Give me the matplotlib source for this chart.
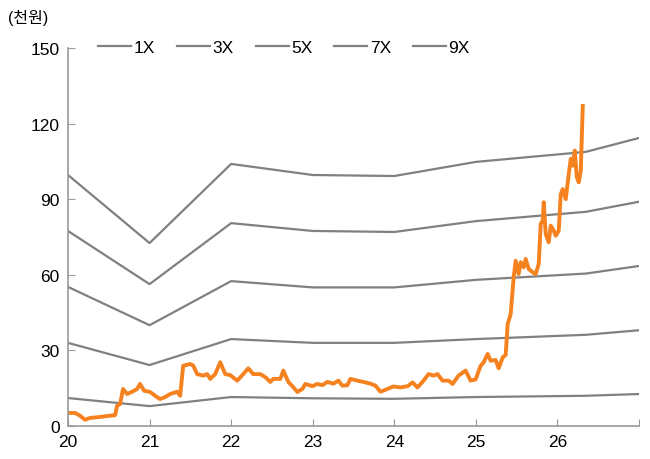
import matplotlib
matplotlib.use("Agg")
import matplotlib.pyplot as plt

plt.rcParams['font.family'] = ['Liberation Sans', 'Noto Sans CJK KR', 'DejaVu Sans']

# PER band lines (year, value)
band_x = [20, 21, 22, 23, 24, 25, 26.35, 27]
band_1x = [11.1, 7.9, 11.5, 11.0, 10.8, 11.5, 12.0, 12.7]
band_3x = [33.0, 24.2, 34.5, 33.0, 33.0, 34.5, 36.2, 38.0]
band_5x = [55.2, 40.0, 57.5, 55.0, 55.0, 58.0, 60.5, 63.5]
band_7x = [77.4, 56.3, 80.5, 77.4, 77.0, 81.3, 85.0, 89.0]
band_9x = [99.6, 72.6, 104.0, 99.6, 99.2, 104.8, 108.8, 114.3]
band_labels = ['1X', '3X', '5X', '7X', '9X']

# price series (pixel-read x positions converted to years)
price_px = [68, 75, 80, 85, 90, 100, 110, 115, 117, 120, 123, 127, 132, 137, 140, 144,
            150, 155, 160, 165, 170, 177, 180, 183, 190, 193, 197, 203, 207, 210, 215,
            220, 225, 230, 237, 243, 248, 253, 260, 265, 270, 273, 280, 283, 288, 293,
            297, 302, 305, 312, 317, 322, 327, 333, 338, 342, 347, 350, 357, 363, 370,
            375, 380, 387, 393, 400, 407, 412, 417, 423, 428, 433, 437, 442, 448, 452,
            458, 465, 470, 475, 480, 483, 487, 490, 495, 498, 502, 505, 507, 510, 513,
            515, 518, 520, 523, 525, 528, 532, 535, 538, 540, 542, 543, 545, 548, 550,
            553, 555, 558, 560, 562, 565, 568, 570, 572, 574, 576, 578, 580, 582]
price_val = [5.2, 5.2, 4.1, 2.5, 3.2, 3.6, 4.1, 4.3, 8.0, 8.7, 14.7, 12.7, 13.6, 14.7, 16.7, 14.0,
             13.5, 12.0, 10.7, 11.5, 12.7, 13.6, 12.0, 23.9, 24.6, 24.0, 20.6, 20.0, 20.6, 18.7, 20.6,
             25.3, 20.6, 20.2, 18.0, 20.6, 22.9, 20.6, 20.6, 19.4, 17.5, 18.7, 18.7, 22.0, 17.5, 15.4,
             13.5, 14.7, 16.7, 15.8, 16.7, 16.2, 17.5, 16.8, 18.0, 16.0, 16.2, 18.7, 18.0, 17.5, 16.8,
             16.0, 13.6, 14.7, 15.7, 15.3, 15.8, 17.3, 15.3, 18.0, 20.6, 20.0, 20.6, 18.0, 18.0, 16.7,
             20.0, 22.0, 18.0, 18.5, 23.9, 25.3, 28.6, 25.9, 26.2, 22.9, 27.2, 28.2, 40.5, 44.4, 59.0,
             65.6, 60.3, 65.0, 63.0, 66.3, 62.3, 61.0, 60.3, 64.3, 80.2, 81.5, 88.8, 76.2, 72.9, 79.5,
             77.5, 75.5, 77.5, 92.0, 94.0, 90.0, 100.0, 106.0, 103.3, 109.3, 98.8, 96.7, 101.3, 127.0]
price_x = [20 + (p - 68) / 81.45 for p in price_px]

fig = plt.figure(figsize=(6.5, 4.6), dpi=100)
ax = fig.add_axes([0.1046, 0.0717, 0.8785, 0.8218])

gray = '#808080'
lines = []
for vals, lab in zip([band_1x, band_3x, band_5x, band_7x, band_9x], band_labels):
    l, = ax.plot(band_x, vals, color=gray, lw=1.6, label=lab)
    lines.append(l)

ax.plot(price_x, price_val, color='#F5821F', lw=2.8, solid_joinstyle='round')

ax.set_xlim(20, 27)
ax.set_ylim(0, 150)
ax.set_xticks([20, 21, 22, 23, 24, 25, 26, 27])
ax.set_xticklabels(['20', '21', '22', '23', '24', '25', '26', ''])
ax.set_yticks([0, 30, 60, 90, 120, 150])
for s in ['top', 'right']:
    ax.spines[s].set_visible(False)
for s in ['left', 'bottom']:
    ax.spines[s].set_color('#999999')
    ax.spines[s].set_linewidth(1.2)
ax.tick_params(direction='in', length=5, color='#999999', labelsize=12.5)
ax.tick_params(axis='x', pad=6)
ax.tick_params(axis='y', pad=6)
for t in ax.get_xticklabels() + ax.get_yticklabels():
    t.set_color('black')

fig.legend(handles=lines, labels=band_labels, ncol=5, loc='center',
           bbox_to_anchor=(0.437, 0.895), frameon=False, fontsize=12.5,
           handlelength=1.9, handletextpad=0.15, columnspacing=1.25)

fig.text(0.012, 0.962, '(천원)', fontsize=11.5, ha='left', va='center')

fig.savefig('out.png', dpi=100)
